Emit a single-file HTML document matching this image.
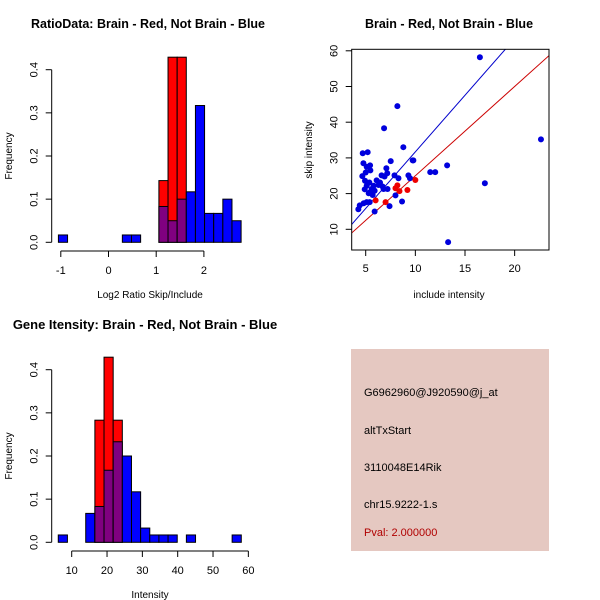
<!DOCTYPE html>
<html><head><meta charset="utf-8"><style>
body{margin:0;background:#fff}
svg{display:block;font-family:"Liberation Sans",sans-serif}
</style></head><body>
<svg id="c" width="600" height="600" xmlns="http://www.w3.org/2000/svg">
<rect width="600" height="600" fill="#fff"/>
<rect x="351" y="349" width="198" height="202" fill="#e5c8c1"/>
<g font-size="11">
<text x="364" y="396">G6962960@J920590@j_at</text>
<text x="364" y="434">altTxStart</text>
<text x="364" y="471">3110048E14Rik</text>
<text x="364" y="508">chr15.9222-1.s</text>
<text x="364" y="536" fill="#b00000">Pval: 2.000000</text>
</g>
</svg>
<script>
// Histogram 1 data
const h1Start=-1.05, h1Width=0.1915;
const h1Blue=[0.017,0,0,0,0,0,0,0.017,0.017,0,0,0.083,0.05,0.1,0.117,0.317,0.067,0.067,0.1,0.05];
const h1Red=[0,0,0,0,0,0,0,0,0,0,0,0.143,0.429,0.429,0,0,0,0,0,0];
const h1XTicks=[-1,0,1,2];
const yTicks=[0,0.1,0.2,0.3,0.4];
// Histogram 2 data
const h2Start=6.2, h2Width=2.59;
const h2Blue=[0.017,0,0,0.067,0.083,0.167,0.233,0.2,0.117,0.033,0.017,0.017,0.017,0,0.017,0,0,0,0,0.017];
const h2Red=[0,0,0,0,0.283,0.429,0.283,0,0,0,0,0,0,0,0,0,0,0,0,0];
const h2XTicks=[10,20,30,40,50,60];
// Scatter data
const blueX=[16.5,8.19,6.85,22.65,8.79,4.7,5.2,9.73,7.52,4.77,5.44,5.1,7.08,5.47,5.0,13.2,11.5,12.0,4.66,6.6,6.9,7.17,7.9,9.3,8.3,9.46,4.93,5.37,6.1,6.44,5.1,5.8,6.3,6.7,7.2,6.8,4.9,5.6,5.9,5.4,5.3,5.7,17.0,8.0,5.1,5.4,4.8,4.4,4.26,7.4,8.66,5.9,13.3,9.8];
const blueY=[58.2,44.5,38.3,35.2,33.0,31.3,31.6,29.3,29.1,28.5,27.9,27.5,27.1,26.5,25.9,27.9,26.0,26.0,24.9,25.1,24.8,25.7,25.1,25.1,24.3,24.3,23.6,23.1,23.7,23.1,22.2,22.2,22.4,22.0,21.3,21.3,21.2,21.3,20.8,20.3,20.1,19.6,22.9,19.5,17.6,17.6,17.3,16.7,15.6,16.5,17.8,15.0,6.4,29.3];
const redX=[10.0,8.19,8.0,8.4,9.2,6.0,7.0];
const redY=[23.8,22.3,21.5,20.7,21.0,18.1,17.6];
const lineSlopes=[3.17,2.5];
const sXTicks=[5,10,15,20];
const sYTicks=[10,20,30,40,50,60];

const NS="http://www.w3.org/2000/svg";
const svg=document.getElementById('c');
function el(tag,attrs,parent){const e=document.createElementNS(NS,tag);for(const k in attrs)e.setAttribute(k,attrs[k]);(parent||svg).appendChild(e);return e;}
function txt(x,y,s,attrs,parent){const e=el('text',Object.assign({x:x,y:y,'text-anchor':'middle','font-size':11},attrs||{}),parent);e.textContent=s;return e;}

function hist(opts){
  const g=el('g',{});
  
  
  const sx=v=>opts.x0px+(v-opts.x0v)*opts.pxPerX;
  const sy=v=>opts.y0px-v*opts.pxPerY;
  for(let i=0;i<opts.blue.length;i++){
    const b=opts.blue[i],r=opts.red[i];
    const x1=sx(opts.start+i*opts.width),x2=sx(opts.start+(i+1)*opts.width);
    const mx=Math.max(b,r),mn=Math.min(b,r);
    if(mx>0){
      const rc=el('rect',{x:x1,y:sy(mx),width:x2-x1,height:sy(0)-sy(mx),fill:r>b?'#ff0000':'#0000ff',stroke:'#000','stroke-width':1},g);
      
      
    }
    if(mn>0){
      const pc=el('rect',{x:x1,y:sy(mn),width:x2-x1,height:sy(0)-sy(mn),fill:'#800080',stroke:'#000','stroke-width':1},g);
      
      
    }
  }
  const ya=el('g',{stroke:'#000'},g);
  
  
  el('line',{x1:opts.yAxisX,x2:opts.yAxisX,y1:sy(0),y2:sy(0.4)},ya);
  yTicks.forEach(t=>{
    el('line',{x1:opts.yAxisX,x2:opts.yAxisX-6,y1:sy(t),y2:sy(t)},ya);
    const tl=txt(opts.yAxisX-14,sy(t),t.toFixed(1),{transform:`rotate(-90 ${opts.yAxisX-14} ${sy(t)})`,stroke:'none'},ya);
    
    
  });
  const xa=el('g',{stroke:'#000'},g);
  
  
  const xt=opts.xTicks;
  el('line',{x1:sx(xt[0]),x2:sx(xt[xt.length-1]),y1:opts.xAxisY,y2:opts.xAxisY},xa);
  xt.forEach(t=>{
    el('line',{x1:sx(t),x2:sx(t),y1:opts.xAxisY,y2:opts.xAxisY+6},xa);
    const tl=txt(sx(t),opts.xAxisY+23,String(t),{stroke:'none'},xa);
    
    
  });
  const xtitle=txt(opts.xTitleX,opts.xAxisY+47,opts.xTitle,{'font-size':10},g);
  
  
  const cy=(sy(0)+sy(0.4))/2;
  const yt=txt(12,cy,'Frequency',{transform:`rotate(-90 12 ${cy})`,'font-size':10},g);
  
  
  const tt=txt(opts.titleX,opts.titleY,opts.title,{'font-weight':'bold','font-size':opts.titleSize},g);
  
  
}
hist({name:'ratio-histogram',blue:h1Blue,red:h1Red,start:h1Start,width:h1Width,x0v:0,x0px:108.5,pxPerX:47.7,y0px:242.3,pxPerY:431.5,yAxisX:51.7,xAxisY:251,xTicks:h1XTicks,xTitle:'Log2 Ratio Skip/Include',xTitleX:150,title:'RatioData: Brain - Red, Not Brain - Blue',titleX:148,titleY:28,titleSize:12.5});
hist({name:'intensity-histogram',blue:h2Blue,red:h2Red,start:h2Start,width:h2Width,x0v:10,x0px:71.7,pxPerX:3.533,y0px:542.3,pxPerY:431.5,yAxisX:51.7,xAxisY:551,xTicks:h2XTicks,xTitle:'Intensity',xTitleX:150,title:'Gene Itensity: Brain - Red, Not Brain - Blue',titleX:145,titleY:329,titleSize:13});

(function(){
  const g=el('g',{});
  
  
  const L=351.7,R=549,T=49.3,B=250;
  const sx=v=>365.7+(v-5)*9.93;
  const sy=v=>229.3-(v-10)*3.57;
  const cp=el('clipPath',{id:'sc'},g);
  el('rect',{x:L,y:T,width:R-L,height:B-T},cp);
  const lines=el('g',{'clip-path':'url(#sc)'},g);
  const cols=['#0000cc','#cc0000'];
  lineSlopes.forEach((m,i)=>{
    const ln=el('line',{x1:sx(0),y1:sy(0),x2:sx(30),y2:sy(30*m),stroke:cols[i],'stroke-width':1},lines);
    
    
  });
  blueX.forEach((x,i)=>{
    const c=el('circle',{cx:sx(x),cy:sy(blueY[i]),r:3,fill:'#0000dd'},g);
    
    
  });
  redX.forEach((x,i)=>{
    const c=el('circle',{cx:sx(x),cy:sy(redY[i]),r:3,fill:'#ee0000'},g);
    
    
  });
  const box=el('rect',{x:L,y:T,width:R-L,height:B-T,fill:'none',stroke:'#000'},g);
  
  
  sXTicks.forEach(t=>{
    el('line',{x1:sx(t),x2:sx(t),y1:B,y2:B+6,stroke:'#000'},g);
    const tl=txt(sx(t),B+22,String(t),{},g);
    
    
  });
  sYTicks.forEach(t=>{
    el('line',{x1:L,x2:L-6,y1:sy(t),y2:sy(t),stroke:'#000'},g);
    const tl=txt(L-14,sy(t),String(t),{transform:`rotate(-90 ${L-14} ${sy(t)})`},g);
    
    
  });
  const xt=txt(449,298,'include intensity',{'font-size':10},g);
  
  
  const yt=txt(312,150,'skip intensity',{transform:'rotate(-90 312 150)','font-size':10},g);
  
  
  const tt=txt(449,28,'Brain - Red, Not Brain - Blue',{'font-weight':'bold','font-size':12.5},g);
  
  
})();
</script>
</body></html>
